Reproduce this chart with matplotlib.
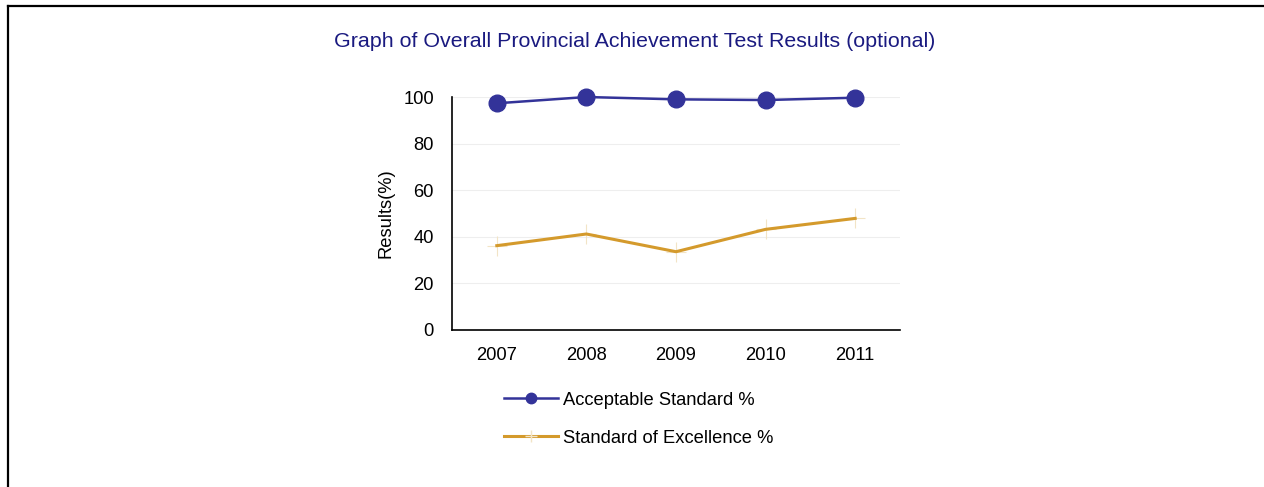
import matplotlib.pyplot as plt
from matplotlib.lines import Line2D

plt.rcParams['font.family'] = ['Liberation Sans', 'DejaVu Sans']

years = ['2007', '2008', '2009', '2010', '2011']
acceptable = [97.3, 100.0, 99.0, 98.7, 99.7]
excellence = [36.2, 41.2, 33.6, 43.2, 47.9]

BLUE = '#333399'
GOLD = '#D49A2C'
FS = 13.2

fig = plt.figure(figsize=(12.64, 4.87), dpi=100)
ax = fig.add_axes([0.3576, 0.3224, 0.3544, 0.4784])

x = range(len(years))
ax.plot(x, acceptable, color=BLUE, lw=1.8, marker='o', ms=12,
        label='Acceptable Standard %', zorder=3, clip_on=False)
ax.plot(x, excellence, color=GOLD, lw=2.2, zorder=3,
        label='Standard of Excellence %')
# faint cross markers on the gold line
ax.plot(x, excellence, ls='none', marker='+', ms=15, mew=0.8,
        color='#F2E4C6', zorder=2)

ax.set_xlim(-0.5, 4.5)
ax.set_ylim(0, 100)
ax.set_xticks(list(x))
ax.set_xticklabels(years)
ax.set_yticks(range(0, 101, 20))
ax.tick_params(length=0, labelsize=FS, pad=12)
ax.tick_params(axis='y', pad=13)
ax.yaxis.grid(True, color='#EEEEEE', lw=0.8)
ax.set_axisbelow(True)
for s in ['top', 'right']:
    ax.spines[s].set_visible(False)
for s in ['left', 'bottom']:
    ax.spines[s].set_linewidth(1.2)
ax.set_ylabel('Results(%)', fontsize=FS, labelpad=6)

fig.text(0.5025, 0.914, 'Graph of Overall Provincial Achievement Test Results (optional)',
         ha='center', va='center', color='#1A1A80', fontsize=15.4)

handles = [
    Line2D([], [], color=BLUE, lw=1.8, marker='o', ms=7.5),
    Line2D([], [], color=GOLD, lw=2.2, marker='+', ms=8, mec='#F2E4C6'),
]
fig.legend(handles, ['Acceptable Standard %', 'Standard of Excellence %'],
           loc='upper left', bbox_to_anchor=(0.393, 0.211), frameon=False,
           fontsize=FS, handlelength=2.95, handletextpad=0.27,
           labelspacing=1.15, borderaxespad=0)

# frame lines on the left and top edge
fig.add_artist(Line2D([0.0063, 0.0063], [0, 0.988], color='black', lw=1.6,
                      transform=fig.transFigure))
fig.add_artist(Line2D([0.0063, 1.0], [0.988, 0.988], color='black', lw=1.6,
                      transform=fig.transFigure))

fig.savefig('out.png', dpi=100)
